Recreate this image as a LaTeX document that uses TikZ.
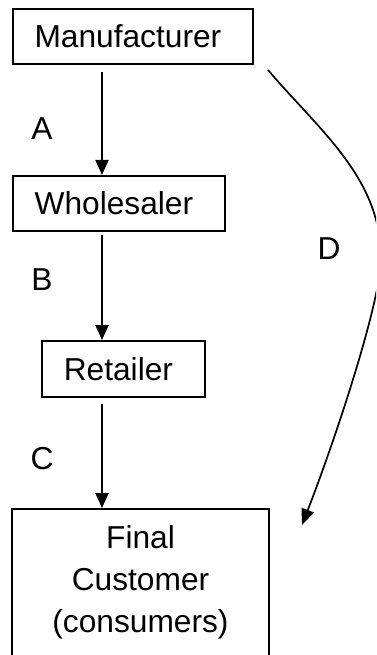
\documentclass[tikz,border=0pt]{standalone}
\usepackage{fontspec}
\setmainfont{Liberation Sans}
\usetikzlibrary{arrows.meta}
\tikzset{
  box/.style={draw, line width=1.8pt, inner sep=0pt, anchor=north west, font=\fontsize{31.7}{42}\selectfont},
  lab/.style={inner sep=0pt, font=\fontsize{31.7}{42}\selectfont},
  arr/.style={line width=1.8pt, -{Triangle[width=13pt,length=15pt]}},
  curvearr/.style={line width=1.7pt, -{Triangle[width=13pt,length=16pt]}}
}
\begin{document}
\begin{tikzpicture}[x=1pt,y=1pt]
\useasboundingbox (0,0) rectangle (376,-655);
\clip (0,0) rectangle (376,-655);
\node[box, minimum width=240pt, minimum height=55pt] (mf) at (12,-8) {\hspace*{-10pt}Manufacturer};
\node[box, minimum width=212pt, minimum height=55pt] (ws) at (12,-175) {\hspace*{-10pt}Wholesaler};
\node[box, minimum width=163pt, minimum height=56pt] (rt) at (41,-340) {\hspace*{-10pt}Retailer};
\node[box, anchor=north, text width=257pt, align=center] (fc) at (140.5,-508)
  {\rule{0pt}{40pt}Final\\Customer\\(consumers)\rule[-45pt]{0pt}{45pt}};
\coordinate (ax) at (102,0);
\coordinate (ds) at (268,-70);
\coordinate (dm) at (381,-258);
\coordinate (de) at (302,-525);
\draw[arr] ([yshift=-7pt]mf.south -| ax) -- (ws.north -| ax);
\draw[arr] ([yshift=-3pt]ws.south -| ax) -- (rt.north -| ax);
\draw[arr] ([yshift=-6pt]rt.south -| ax) -- (fc.north -| ax);
\draw[curvearr] (ds) .. controls (320,-131) and (381,-178) .. (dm)
  .. controls (381,-300) and (338,-432) .. (de);
\node[lab] (la) at (42,-129) {A};
\node[lab] (lb) at (42,-279.5) {B};
\node[lab] (lc) at (42,-459) {C};
\node[lab] (ld) at (329,-248.5) {D};
\end{tikzpicture}
\end{document}
